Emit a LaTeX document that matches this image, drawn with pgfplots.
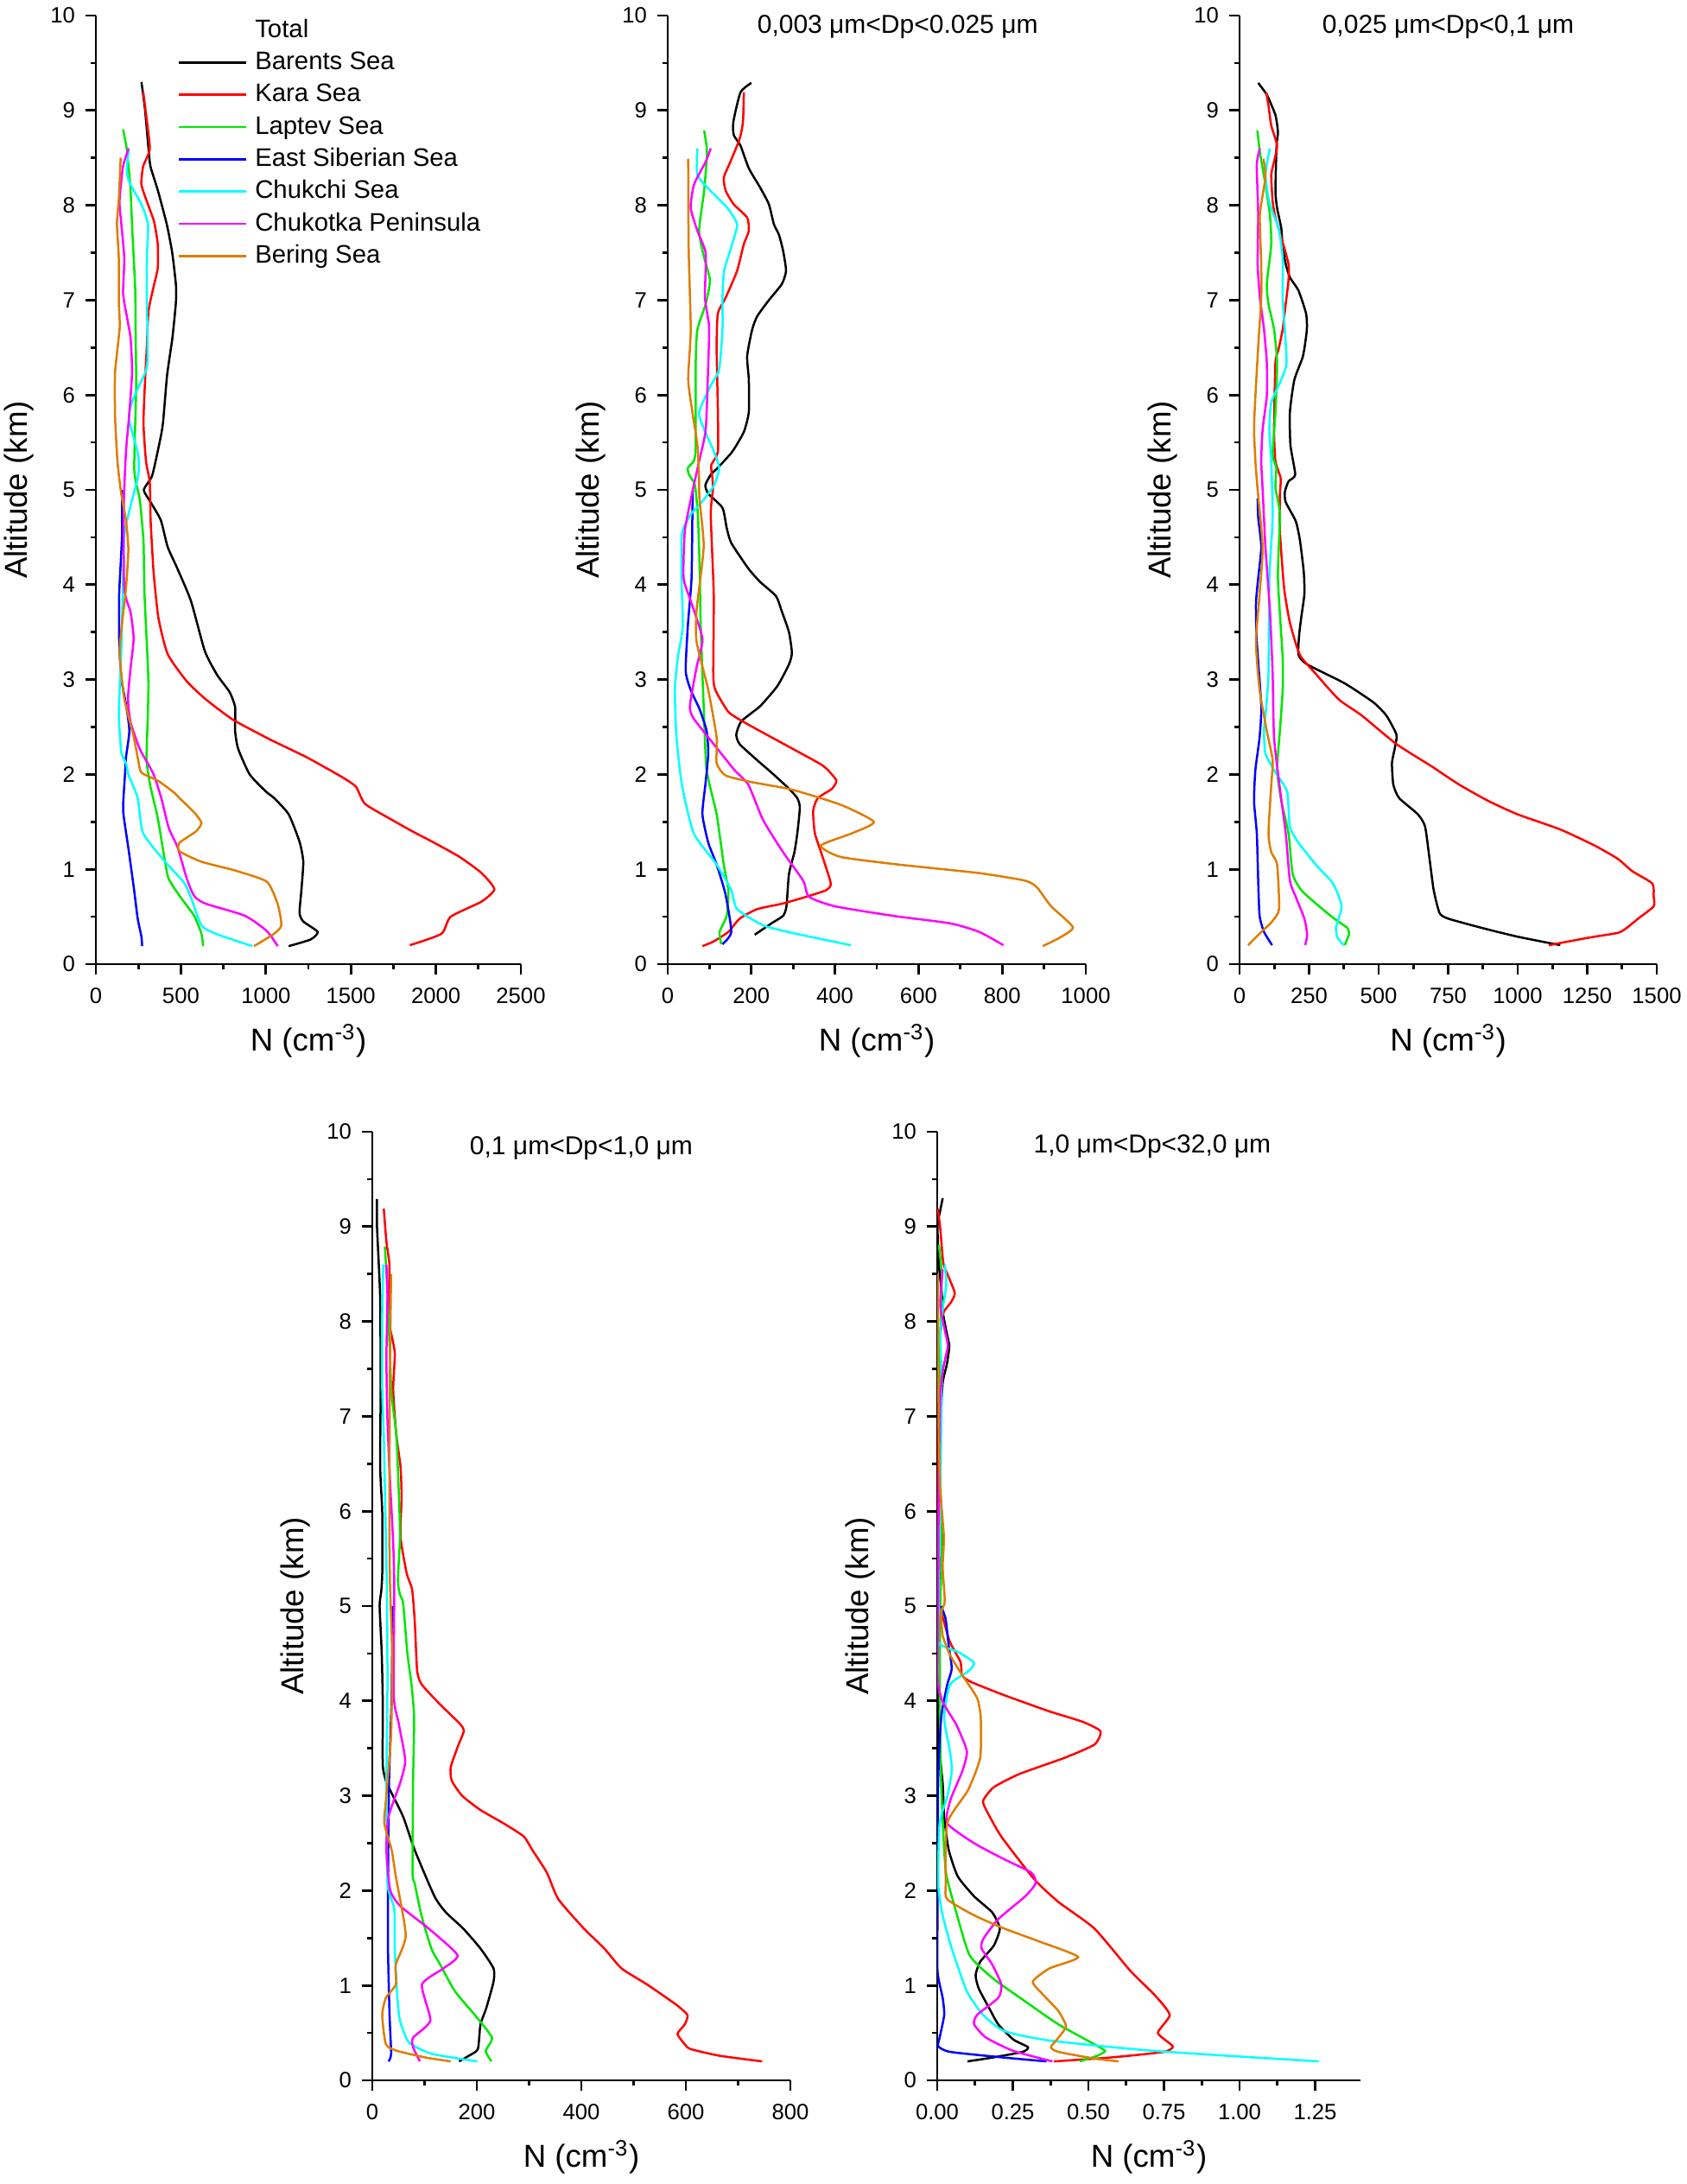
\documentclass[border=0pt]{standalone}
\usepackage{fontspec}
\setmainfont{Liberation Sans}
\usepackage{pgfplots}
\pgfplotsset{compat=1.18}
\definecolor{cBlack}{RGB}{0,0,0}
\definecolor{cRed}{RGB}{255,0,0}
\definecolor{cGreen}{RGB}{0,230,0}
\definecolor{cBlue}{RGB}{0,0,255}
\definecolor{cCyan}{RGB}{0,255,255}
\definecolor{cMagenta}{RGB}{255,0,255}
\definecolor{cOrange}{RGB}{222,125,0}
\pgfplotsset{
 panel/.style={
  scale only axis, height=329.4pt, axis lines*=left,
  xmin=0, ymin=0, ymax=10, enlargelimits=false,
  ytick={0,1,...,10}, minor y tick num=1, minor x tick num=1,
  tick align=outside, major tick length=3.7pt, minor tick length=1.7pt,
  every tick/.style={black, line width=0.8pt},
  axis line style={line width=0.85pt},
  ticklabel style={font=\fontsize{7.7}{9}\selectfont},
  xticklabel style={yshift=-1pt},
  /pgf/number format/assume math mode=true,
  /pgf/number format/1000 sep={},
  label style={font=\fontsize{11}{13}\selectfont},
  xlabel={N (cm\textsuperscript{-3})}, ylabel={Altitude (km)},
  xlabel style={at={([yshift=-26.7pt]axis description cs:0.5,0)}, anchor=center},
  ylabel style={at={([xshift=-26.7pt]axis description cs:0,0.5)}, anchor=center},
  every axis title shift=0pt,
  title style={font=\fontsize{9}{11}\selectfont, anchor=center},
  every axis plot/.append style={line width=0.75pt, smooth, tension=0.35, no markers},
 },
 pk/.style={cBlack}, pr/.style={cRed}, pg/.style={cGreen}, pb/.style={cBlue},
 pc/.style={cCyan}, pm/.style={cMagenta}, po/.style={cOrange},
}
\begin{document}
\begin{tikzpicture}
% ---------------- Panel 1: Total
\begin{axis}[panel, at={(33.3pt,-334.8pt)}, anchor=south west, width=147.6pt,
  xmax=2500, xtick={0,500,1000,1500,2000,2500},
  legend cell align=left,
  legend style={draw=none, fill=none, at={([yshift=-0.7pt]axis description cs:0.191,1)}, anchor=north west,
    font=\fontsize{8.8}{10}\selectfont, row sep=2.8pt, column sep=2.7pt, inner sep=0pt,
    nodes={inner sep=0pt, text height=6.6pt, text depth=1.8pt}},
  legend image code/.code={\draw[#1, line width=0.8pt] (0pt,0pt) -- (23.4pt,0pt);}]
\addlegendimage{empty legend}\addlegendentry{Total}
\addplot[pk] coordinates {(268,9.30) (289,9.01) (310,8.59) (321,8.41) (364,8.16) (417,7.80) (449,7.50) (471,7.16) (471,6.98) (450,6.6) (419,6.21) (395,5.71) (377,5.52) (331,5.15) (282,5.0) (322,4.87) (382,4.68) (422,4.40) (477,4.18) (559,3.83) (641,3.30) (713,3.05) (786,2.87) (819,2.71) (819,2.46) (837,2.27) (905,2.0) (1000,1.82) (1049,1.75) (1134,1.58) (1198,1.29) (1220,1.08) (1209,0.78) (1198,0.54) (1220,0.45) (1305,0.34) (1263,0.26) (1134,0.19)};
\addlegendentry{Barents Sea}
\addplot[pr] coordinates {(278,9.20) (300,8.89) (317,8.59) (278,8.41) (268,8.22) (300,8.04) (342,7.83) (364,7.59) (364,7.34) (338,7.13) (310,6.89) (300,6.52) (291,6.21) (280,5.71) (295,5.30) (317,5.08) (322,4.68) (340,4.12) (368,3.65) (422,3.27) (531,2.99) (641,2.80) (804,2.58) (1023,2.37) (1241,2.18) (1450,1.97) (1530,1.87) (1583,1.69) (1733,1.53) (1862,1.40) (1990,1.28) (2140,1.13) (2269,0.96) (2344,0.79) (2269,0.66) (2087,0.50) (2033,0.32) (1847,0.20)};
\addlegendentry{Kara Sea}
\addplot[pg] coordinates {(160,8.80) (182,8.59) (203,8.19) (214,7.74) (231,7.13) (234,6.6) (237,6.08) (226,5.21) (258,4.90) (280,4.46) (286,3.90) (309,2.96) (298,2.18) (310,1.99) (321,1.87) (364,1.54) (407,1.08) (428,0.90) (492,0.72) (578,0.51) (621,0.32) (631,0.19)};
\addlegendentry{Laptev Sea}
\addplot[pb] coordinates {(154,5.0) (154,4.52) (137,3.90) (137,3.43) (149,3.02) (177,2.74) (197,2.46) (177,2.18) (171,1.99) (164,1.80) (161,1.60) (193,1.20) (225,0.78) (246,0.48) (268,0.29) (272,0.19)};
\addlegendentry{East Siberian Sea}
\addplot[pc] coordinates {(193,8.60) (182,8.35) (203,8.22) (268,8.01) (306,7.80) (300,7.44) (300,6.9) (304,6.71) (304,6.37) (291,6.24) (213,5.93) (195,5.74) (249,5.37) (249,5.15) (204,4.83) (167,4.52) (158,3.90) (149,3.27) (135,2.65) (149,2.24) (177,2.12) (193,1.99) (246,1.75) (278,1.38) (407,1.08) (514,0.87) (556,0.72) (621,0.41) (706,0.32) (920,0.19)};
\addlegendentry{Chukchi Sea}
\addplot[pm] coordinates {(193,8.60) (160,8.41) (139,8.04) (150,7.80) (167,7.44) (160,7.07) (182,6.83) (204,6.6) (213,6.24) (195,5.77) (177,5.40) (164,4.83) (167,3.96) (204,3.71) (222,3.43) (204,3.12) (189,2.80) (204,2.55) (258,2.27) (304,2.12) (342,1.99) (385,1.75) (428,1.44) (481,1.23) (535,0.90) (578,0.72) (642,0.64) (877,0.51) (1005,0.35) (1070,0.19)};
\addlegendentry{Chukotka Peninsula}
\addplot[po] coordinates {(146,8.50) (135,8.07) (124,7.80) (135,7.44) (135,6.98) (140,6.71) (113,6.24) (113,5.77) (127,5.30) (149,4.96) (177,4.68) (191,4.37) (177,3.96) (153,3.58) (140,3.27) (167,2.80) (222,2.40) (249,2.15) (268,2.02) (368,1.93) (459,1.81) (492,1.75) (578,1.60) (621,1.49) (589,1.40) (492,1.28) (492,1.19) (621,1.08) (813,0.99) (1005,0.87) (1070,0.63) (1091,0.41) (1048,0.32) (930,0.19)};
\addlegendentry{Bering Sea}
\end{axis}
% ---------------- Panel 2
\begin{axis}[panel, at={(231.9pt,-334.8pt)}, anchor=south west, width=145.2pt,
  xmax=1000, xtick={0,200,400,600,800,1000},
  title={0,003 μm<Dp<0.025 μm}, title style={at={(axis description cs:0.55,0.988)}}]
\addplot[pk] coordinates {(200,9.29) (174,9.19) (157,8.88) (158,8.74) (174,8.63) (194,8.39) (222,8.18) (242,8.01) (254,7.80) (266,7.69) (276,7.52) (283,7.31) (273,7.17) (242,7.0) (214,6.83) (202,6.69) (190,6.41) (194,6.16) (194,5.82) (182,5.61) (154,5.40) (119,5.23) (103,5.16) (90,5.05) (97,4.96) (131,4.81) (141,4.60) (152,4.44) (193,4.17) (221,4.03) (259,3.88) (272,3.73) (290,3.50) (297,3.28) (290,3.16) (262,2.93) (221,2.72) (176,2.56) (164,2.42) (172,2.32) (214,2.15) (248,2.02) (290,1.85) (310,1.75) (316,1.65) (310,1.38) (303,1.18) (290,0.95) (284,0.61) (276,0.51) (248,0.43) (208,0.31)};
\addplot[pr] coordinates {(182,9.19) (180,8.88) (172,8.70) (150,8.46) (134,8.29) (139,8.15) (158,8.01) (190,7.87) (194,7.73) (182,7.59) (166,7.31) (139,7.03) (120,6.86) (117,6.51) (120,5.82) (120,5.40) (104,5.26) (107,5.12) (108,5.0) (103,4.74) (110,3.90) (109,3.06) (114,2.89) (145,2.66) (179,2.56) (228,2.44) (303,2.26) (372,2.09) (403,1.94) (393,1.85) (359,1.75) (348,1.62) (352,1.38) (372,1.11) (390,0.85) (379,0.78) (331,0.71) (276,0.64) (214,0.58) (172,0.48) (145,0.34) (110,0.24) (83,0.19)};
\addplot[pg] coordinates {(87,8.79) (94,8.56) (87,8.15) (75,7.73) (87,7.45) (101,7.21) (91,6.96) (71,6.69) (67,6.34) (67,5.47) (63,5.31) (48,5.23) (51,5.16) (65,5.05) (72,4.74) (76,4.23) (79,3.56) (86,2.72) (93,2.05) (117,1.58) (134,1.05) (145,0.78) (141,0.51) (124,0.34) (128,0.21)};
\addplot[pb] coordinates {(60,5.0) (59,4.74) (57,4.07) (48,3.56) (43,3.09) (55,2.89) (76,2.69) (93,2.46) (97,2.22) (90,1.89) (83,1.58) (97,1.28) (117,1.05) (138,0.74) (152,0.34) (131,0.21)};
\addplot[pc] coordinates {(71,8.60) (71,8.32) (103,8.15) (143,7.97) (166,7.80) (154,7.59) (135,7.31) (131,7.03) (131,6.69) (123,6.27) (103,6.10) (75,5.82) (87,5.64) (111,5.40) (123,5.23) (111,5.05) (83,4.88) (55,4.74) (34,4.54) (33,4.07) (36,3.56) (24,3.23) (17,2.89) (21,2.39) (34,1.89) (62,1.38) (117,1.05) (152,0.78) (166,0.58) (228,0.41) (297,0.33) (438,0.20)};
\addplot[pm] coordinates {(103,8.60) (91,8.46) (63,8.22) (55,7.97) (71,7.73) (91,7.49) (89,7.03) (99,6.72) (97,6.34) (91,5.64) (75,5.30) (60,5.0) (41,4.57) (38,4.07) (55,3.83) (83,3.43) (69,3.13) (53,2.72) (62,2.59) (110,2.32) (159,2.05) (193,1.89) (228,1.52) (276,1.18) (324,0.88) (338,0.71) (400,0.61) (538,0.51) (676,0.43) (745,0.34) (803,0.20)};
\addplot[po] coordinates {(49,8.49) (50,7.56) (55,6.69) (49,6.16) (59,5.82) (71,5.47) (75,5.12) (76,4.9) (86,4.40) (69,3.73) (69,3.40) (97,2.89) (117,2.39) (117,2.12) (138,1.99) (200,1.92) (297,1.84) (414,1.68) (493,1.50) (441,1.38) (366,1.25) (414,1.13) (552,1.05) (745,0.96) (855,0.88) (883,0.81) (917,0.61) (969,0.39) (938,0.28) (897,0.19)};
\end{axis}
% ---------------- Panel 3
\begin{axis}[panel, at={(430.5pt,-334.8pt)}, anchor=south west, width=144.9pt,
  xmax=1500, xtick={0,250,500,750,1000,1250,1500},
  title={0,025 μm<Dp<0,1 μm}, title style={at={(axis description cs:0.5,0.988)}}]
\addplot[pk] coordinates {(67,9.29) (99,9.16) (129,8.95) (138,8.77) (133,8.63) (129,8.15) (135,7.97) (150,7.76) (155,7.56) (166,7.38) (181,7.24) (212,7.10) (239,6.86) (242,6.69) (228,6.41) (197,6.16) (181,5.82) (183,5.47) (200,5.16) (176,5.09) (163,4.98) (166,4.87) (202,4.67) (217,4.47) (231,4.13) (233,3.90) (222,3.66) (214,3.46) (212,3.26) (243,3.16) (378,2.96) (481,2.76) (528,2.62) (564,2.42) (559,2.29) (548,2.12) (553,1.89) (574,1.75) (641,1.58) (667,1.45) (683,1.11) (698,0.78) (719,0.54) (750,0.48) (874,0.38) (999,0.29) (1153,0.20)};
\addplot[pr] coordinates {(96,9.19) (104,9.05) (114,8.84) (135,8.63) (124,8.46) (114,8.32) (119,8.04) (129,7.87) (150,7.66) (176,7.38) (176,7.21) (166,6.96) (155,6.69) (140,6.48) (129,6.34) (124,5.64) (129,5.30) (148,5.12) (145,4.95) (145,4.57) (160,3.97) (181,3.60) (217,3.26) (274,3.06) (357,2.79) (440,2.62) (564,2.32) (688,2.09) (791,1.89) (895,1.72) (999,1.58) (1153,1.42) (1277,1.25) (1360,1.11) (1412,0.98) (1484,0.85) (1489,0.71) (1489,0.61) (1433,0.48) (1391,0.38) (1360,0.33) (1257,0.28) (1112,0.20)};
\addplot[pg] coordinates {(64,8.79) (73,8.56) (93,8.22) (109,7.90) (114,7.59) (98,7.17) (104,6.96) (124,6.69) (135,6.34) (129,5.82) (119,5.37) (132,5.23) (129,5.02) (145,4.74) (138,4.07) (155,3.23) (155,2.89) (145,2.46) (135,2.05) (150,1.72) (176,1.38) (191,0.95) (222,0.78) (274,0.64) (336,0.49) (388,0.38) (393,0.31) (378,0.20)};
\addplot[pb] coordinates {(65,4.91) (67,4.71) (78,4.40) (67,4.07) (59,3.80) (62,3.40) (78,2.72) (72,2.39) (57,2.05) (52,1.72) (62,1.38) (67,0.88) (72,0.51) (88,0.34) (117,0.20)};
\addplot[pc] coordinates {(109,8.60) (93,8.32) (109,8.01) (140,7.76) (155,7.45) (155,7.03) (161,6.76) (169,6.34) (150,6.16) (114,5.92) (107,5.64) (114,5.30) (119,4.8) (117,4.57) (107,4.07) (104,3.06) (96,2.72) (88,2.46) (93,2.22) (129,2.02) (171,1.82) (181,1.45) (212,1.28) (274,1.05) (336,0.85) (367,0.61) (347,0.39) (352,0.28) (375,0.20)};
\addplot[pm] coordinates {(73,8.60) (62,8.43) (67,7.90) (65,7.38) (73,7.03) (88,6.69) (98,6.34) (98,5.99) (83,5.64) (78,5.30) (83,5.0) (93,4.40) (109,3.73) (119,3.06) (124,2.39) (145,1.85) (166,1.38) (181,0.88) (202,0.71) (233,0.48) (243,0.31) (236,0.20)};
\addplot[po] coordinates {(86,8.49) (93,8.29) (73,7.90) (78,7.38) (78,7.03) (67,6.51) (57,5.99) (52,5.64) (57,5.30) (65,5.0) (83,4.40) (72,3.90) (59,3.40) (72,2.89) (98,2.46) (119,2.15) (114,1.89) (104,1.38) (114,1.18) (135,1.05) (142,0.58) (114,0.44) (78,0.34) (31,0.20)};
\end{axis}
% ---------------- Panel 4
\begin{axis}[panel, at={(129.3pt,-722.4pt)}, anchor=south west, width=145.2pt,
  xmax=800, xtick={0,200,400,600,800},
  title={0,1 μm<Dp<1,0 μm}, title style={at={(axis description cs:0.5,0.983)}}]
\addplot[pk] coordinates {(9,9.29) (9,9.0) (15,8.26) (16,7.28) (15,6.47) (19,5.99) (19,5.34) (17,5.15) (14,5.0) (18,4.51) (20,3.99) (20,3.33) (26,3.16) (34,3.06) (59,2.78) (81,2.43) (119,1.94) (141,1.77) (174,1.60) (207,1.39) (232,1.18) (232,1.04) (218,0.76) (207,0.59) (202,0.33) (185,0.26) (166,0.20)};
\addplot[pr] coordinates {(22,9.19) (27,8.84) (33,8.58) (31,8.09) (34,7.93) (43,7.67) (40,7.28) (46,6.80) (54,6.47) (56,6.15) (54,5.73) (66,5.34) (76,5.18) (81,4.86) (86,4.31) (95,4.17) (125,3.99) (147,3.87) (169,3.75) (175,3.68) (163,3.51) (150,3.30) (152,3.16) (172,3.00) (207,2.85) (251,2.71) (290,2.57) (306,2.43) (334,2.19) (356,1.91) (405,1.60) (444,1.39) (477,1.18) (526,1.01) (581,0.80) (603,0.69) (598,0.59) (584,0.49) (598,0.38) (609,0.33) (664,0.26) (746,0.20)};
\addplot[pg] coordinates {(24,8.79) (28,8.42) (34,7.61) (37,7.22) (46,6.80) (51,6.15) (53,5.73) (49,5.27) (53,5.12) (59,5.03) (67,4.51) (75,4.17) (80,3.82) (78,3.13) (77,2.19) (81,2.08) (94,1.74) (113,1.39) (130,1.22) (158,0.94) (196,0.69) (229,0.45) (217,0.31) (228,0.20)};
\addplot[pb] coordinates {(39,5.0) (37,4.06) (32,3.13) (30,2.08) (30,1.39) (33,0.69) (36,0.28) (31,0.20)};
\addplot[pc] coordinates {(21,8.60) (19,8.09) (19,7.28) (22,6.80) (25,5.99) (28,5.12) (29,4.17) (27,3.13) (29,2.08) (42,1.81) (43,1.39) (48,0.87) (53,0.63) (70,0.40) (114,0.28) (201,0.20)};
\addplot[pm] coordinates {(27,8.60) (29,8.26) (27,7.61) (29,6.96) (34,6.31) (40,5.66) (42,5.2) (41,4.06) (51,3.75) (63,3.37) (53,3.13) (31,2.78) (27,2.43) (34,2.01) (53,1.84) (108,1.60) (163,1.32) (136,1.18) (95,1.01) (111,0.63) (78,0.45) (78,0.35) (91,0.20)};
\addplot[po] coordinates {(36,8.50) (34,7.61) (33,6.64) (33,5.66) (34,5.2) (38,4.51) (36,3.65) (26,2.95) (23,2.71) (37,2.43) (45,2.15) (64,1.53) (45,1.22) (45,1.01) (26,0.87) (19,0.69) (26,0.38) (48,0.31) (103,0.24) (150,0.20)};
\end{axis}
% ---------------- Panel 5
\begin{axis}[panel, at={(325.5pt,-722.4pt)}, anchor=south west, width=147pt,
  xmax=1.4, xtick={0,0.25,0.5,0.75,1,1.25},
  xticklabel style={/pgf/number format/.cd, fixed, fixed zerofill, precision=2},
  title={1,0 μm<Dp<32,0 μm}, title style={at={(axis description cs:0.508,0.984)}}]
\addplot[pk] coordinates {(0.018,9.30) (0.010,9.17) (0.001,9.01) (0.005,8.62) (0.015,8.30) (0.020,8.07) (0.032,7.87) (0.040,7.74) (0.032,7.55) (0.018,7.35) (0.010,6.87) (0.010,6.22) (0.018,5.73) (0.010,5.41) (0.008,5.02) (0.008,4.17) (0.003,3.65) (0.018,3.13) (0.023,2.78) (0.038,2.43) (0.068,2.15) (0.122,1.94) (0.182,1.77) (0.207,1.60) (0.187,1.42) (0.142,1.25) (0.127,1.11) (0.137,0.97) (0.172,0.76) (0.202,0.59) (0.252,0.43) (0.300,0.35) (0.282,0.30) (0.182,0.24) (0.100,0.20)};
\addplot[pr] coordinates {(0.002,9.19) (0.010,8.98) (0.020,8.62) (0.035,8.49) (0.058,8.30) (0.045,8.20) (0.020,8.09) (0.010,7.84) (0.005,7.19) (0.003,6.54) (0.002,5.89) (0.002,5.10) (0.023,4.83) (0.042,4.62) (0.077,4.41) (0.082,4.27) (0.112,4.20) (0.222,4.06) (0.371,3.89) (0.481,3.78) (0.540,3.68) (0.520,3.54) (0.421,3.40) (0.272,3.23) (0.187,3.09) (0.152,2.95) (0.162,2.85) (0.212,2.57) (0.321,2.12) (0.401,1.88) (0.520,1.60) (0.640,1.15) (0.719,0.90) (0.769,0.69) (0.730,0.50) (0.779,0.36) (0.749,0.30) (0.570,0.24) (0.386,0.20)};
\addplot[pg] coordinates {(0.005,8.81) (0.015,8.49) (0.010,7.84) (0.008,6.87) (0.015,5.57) (0.010,5.02) (0.008,4.17) (0.013,3.13) (0.023,2.43) (0.031,2.15) (0.063,1.77) (0.107,1.32) (0.182,1.08) (0.292,0.83) (0.401,0.59) (0.520,0.38) (0.555,0.31) (0.530,0.26) (0.471,0.20)};
\addplot[pb] coordinates {(0.013,5.0) (0.028,4.86) (0.038,4.58) (0.048,4.34) (0.033,4.17) (0.013,3.82) (0.003,3.13) (0.001,1.74) (0.001,1.15) (0.018,0.87) (0.023,0.69) (0.008,0.45) (0.003,0.36) (0.043,0.30) (0.222,0.24) (0.361,0.20)};
\addplot[pc] coordinates {(0.025,8.60) (0.030,8.39) (0.020,8.17) (0.010,7.84) (0.015,7.35) (0.010,6.22) (0.005,5.02) (0.003,4.62) (0.073,4.51) (0.122,4.40) (0.102,4.31) (0.042,4.17) (0.023,3.82) (0.042,3.47) (0.048,3.26) (0.033,2.99) (0.008,2.71) (0.003,2.08) (0.018,1.74) (0.048,1.39) (0.098,0.94) (0.152,0.69) (0.222,0.52) (0.371,0.42) (0.719,0.31) (1.262,0.20)};
\addplot[pm] coordinates {(0.018,8.55) (0.010,8.17) (0.025,7.91) (0.035,7.74) (0.020,7.51) (0.010,7.19) (0.005,6.22) (0.003,5.02) (0.001,4.24) (0.018,3.99) (0.063,3.75) (0.098,3.47) (0.083,3.26) (0.043,2.95) (0.033,2.71) (0.122,2.50) (0.222,2.33) (0.311,2.19) (0.326,2.08) (0.291,1.94) (0.202,1.70) (0.152,1.49) (0.147,1.39) (0.182,1.22) (0.212,1.01) (0.202,0.87) (0.132,0.69) (0.122,0.59) (0.162,0.45) (0.252,0.31) (0.381,0.20)};
\addplot[po] coordinates {(0.002,8.5) (0.003,7.84) (0.005,6.87) (0.010,6.22) (0.022,5.73) (0.018,5.41) (0.025,5.05) (0.013,4.93) (0.018,4.69) (0.043,4.48) (0.083,4.27) (0.132,4.03) (0.144,3.82) (0.142,3.40) (0.102,3.06) (0.033,2.71) (0.028,2.08) (0.033,1.91) (0.122,1.74) (0.222,1.60) (0.341,1.46) (0.466,1.30) (0.371,1.18) (0.316,1.04) (0.351,0.90) (0.401,0.73) (0.426,0.57) (0.401,0.45) (0.376,0.35) (0.401,0.30) (0.520,0.23) (0.600,0.20)};
\end{axis}
\pgfresetboundingbox
\path[use as bounding box] (0,0) rectangle (585.9pt,-758.4pt);
\end{tikzpicture}
\end{document}
